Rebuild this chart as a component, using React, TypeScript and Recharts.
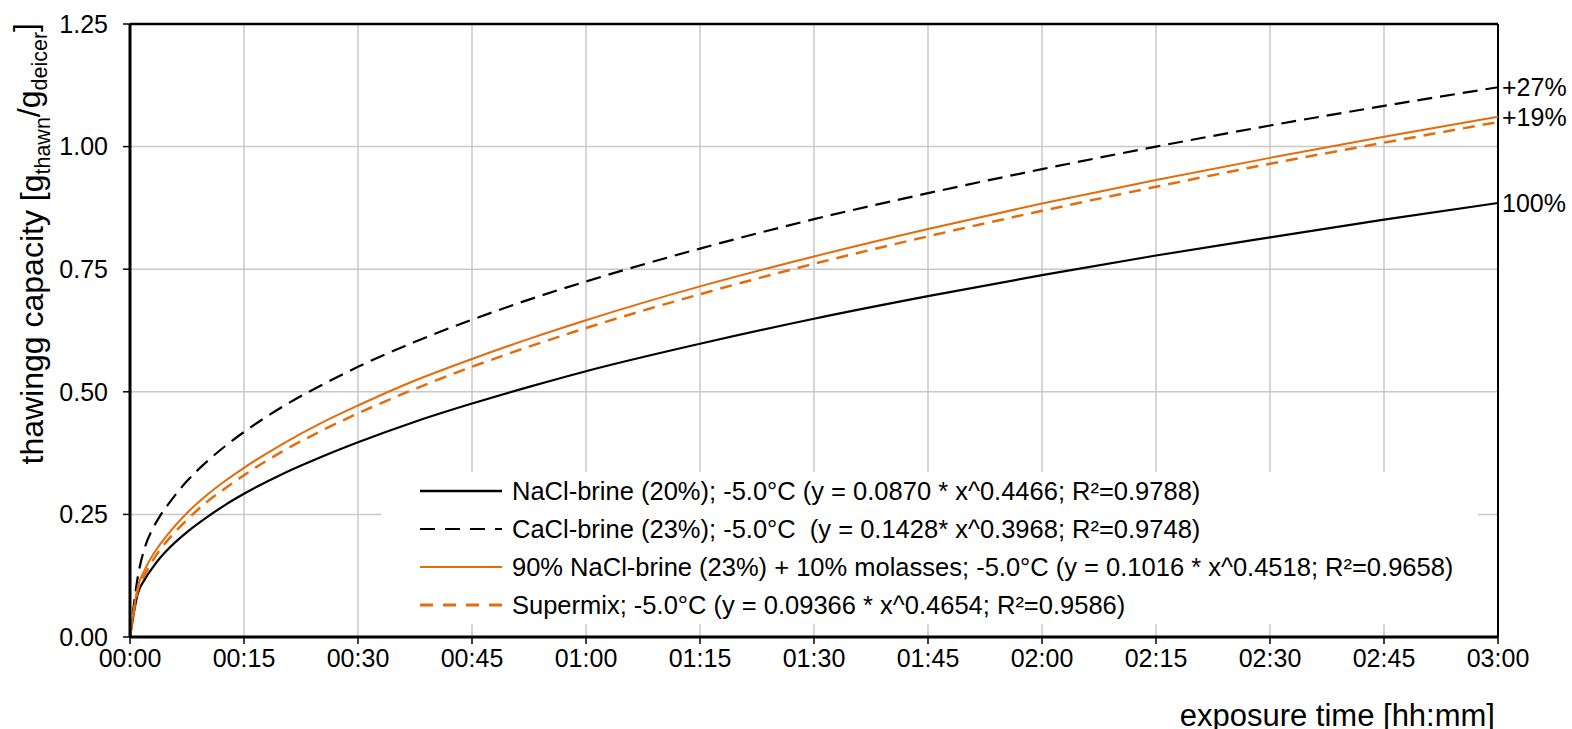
import React from "react";
import { LineChart, Line, XAxis, YAxis, CartesianGrid, ReferenceLine } from "recharts";

// exposure time in minutes
const times = [0, 1, 2, 3, 4, 5, 7.5, 10, 12.5, 15, 20, 25, 30, 37.5, 45, 52.5, 60, 75, 90, 105, 120, 135, 150, 165, 180];
const nacl = [0, 0.087, 0.119, 0.142, 0.162, 0.179, 0.214, 0.243, 0.269, 0.292, 0.332, 0.366, 0.397, 0.439, 0.476, 0.510, 0.542, 0.598, 0.649, 0.695, 0.738, 0.778, 0.815, 0.851, 0.885];
const cacl = [0, 0.120, 0.185, 0.221, 0.248, 0.270, 0.318, 0.356, 0.389, 0.418, 0.469, 0.512, 0.551, 0.602, 0.647, 0.688, 0.725, 0.792, 0.852, 0.905, 0.954, 1.000, 1.043, 1.083, 1.121];
const molasses = [0, 0.100, 0.139, 0.167, 0.190, 0.210, 0.253, 0.288, 0.318, 0.345, 0.393, 0.435, 0.472, 0.523, 0.567, 0.608, 0.646, 0.715, 0.776, 0.832, 0.884, 0.932, 0.977, 1.020, 1.061];
const supermix = [0, 0.094, 0.129, 0.156, 0.179, 0.198, 0.239, 0.274, 0.303, 0.330, 0.378, 0.419, 0.456, 0.506, 0.551, 0.592, 0.630, 0.699, 0.761, 0.817, 0.869, 0.918, 0.965, 1.008, 1.050];

const xTicks = [0, 15, 30, 45, 60, 75, 90, 105, 120, 135, 150, 165, 180];
const yTicks = [0, 0.25, 0.5, 0.75, 1.0, 1.25];

const endLabels: Record<string, string> = { nacl: "100%", cacl: "+27%", molasses: "+19%" };

const legendItems = [
  { label: "NaCl-brine (20%); -5.0°C (y = 0.0870 * x^0.4466; R²=0.9788)", color: "#000000", dash: "", width: 2.6 },
  { label: "CaCl-brine (23%); -5.0°C  (y = 0.1428* x^0.3968; R²=0.9748)", color: "#000000", dash: "15 10", width: 2 },
  { label: "90% NaCl-brine (23%) + 10% molasses; -5.0°C (y = 0.1016 * x^0.4518; R²=0.9658)", color: "#E46C0A", dash: "", width: 2 },
  { label: "Supermix; -5.0°C (y = 0.09366 * x^0.4654; R²=0.9586)", color: "#E46C0A", dash: "13 10", width: 2.8 },
];

const data = times.map((t, i) => ({
  t,
  nacl: nacl[i],
  cacl: cacl[i],
  molasses: molasses[i],
  supermix: supermix[i],
}));

const FONT = "'Liberation Sans', Arial, sans-serif";

const fmtTime = (m: number) => {
  const h = Math.floor(m / 60);
  const mm = Math.round(m % 60);
  return `${String(h).padStart(2, "0")}:${String(mm).padStart(2, "0")}`;
};

const makeEndLabel = (key: string) => (props: any) => {
  const { x, y, index } = props;
  if (index !== times.length - 1 || !endLabels[key]) return <g />;
  return (
    <text x={x + 4} y={y} dy="0.36em" fontSize={25} fontFamily={FONT} fill="#000" textAnchor="start">
      {endLabels[key]}
    </text>
  );
};

const YLabel = (props: any) => {
  const vb = props.viewBox || {};
  const tx = 35;
  const ty = (vb.y ?? 16) - 1;
  return (
    <text
      x={tx}
      y={ty}
      transform={`rotate(-90, ${tx}, ${ty})`}
      textAnchor="end"
      fontSize={32}
      fontFamily={FONT}
      fill="#000"
    >
      <tspan>thawingg capacity [g</tspan>
      <tspan fontSize={21.5} dy="0.32em">thawn</tspan>
      <tspan dy="-0.32em">/g</tspan>
      <tspan fontSize={21.5} dy="0.32em">deicer</tspan>
      <tspan dy="-0.32em">]</tspan>
    </text>
  );
};

const XLabel = (props: any) => {
  const vb = props.viewBox || {};
  const x = (vb.x ?? 122) + (vb.width ?? 1368) - 3;
  const y = (vb.y ?? 629) + 89;
  return (
    <text x={x} y={y} textAnchor="end" fontSize={31} fontFamily={FONT} fill="#000">
      exposure time [hh:mm]
    </text>
  );
};

export default function App() {
  return (
    <div style={{ position: "relative", width: 1572, height: 729, overflow: "hidden" }}>
      <style>{`html,body{margin:0;padding:0;overflow:hidden;}`}</style>
      <div style={{ position: "absolute", left: 8, top: 8 }}>
        <LineChart
          width={1564}
          height={721}
          data={data}
          margin={{ top: 16, right: 74, bottom: 0, left: 0 }}
          style={{ fontFamily: FONT }}
        >
          <CartesianGrid stroke="#c8c8c8" strokeWidth={1.5} />
          <XAxis
            type="number"
            dataKey="t"
            domain={[0, 180]}
            ticks={xTicks}
            interval={0}
            tickFormatter={fmtTime}
            height={92}
            axisLine={{ stroke: "#000", strokeWidth: 3 }}
            tickLine={{ stroke: "#000", strokeWidth: 1.5 }}
            tickSize={7}
            tickMargin={5}
            tick={{ fontSize: 25, fill: "#000", fontFamily: FONT }}
            label={<XLabel />}
          />
          <YAxis
            type="number"
            domain={[0, 1.25]}
            ticks={yTicks}
            interval={0}
            tickFormatter={(v: number) => v.toFixed(2)}
            width={122}
            axisLine={{ stroke: "#000", strokeWidth: 3 }}
            tickLine={{ stroke: "#000", strokeWidth: 1.5 }}
            tickSize={7}
            tickMargin={15}
            tick={{ fontSize: 25, fill: "#000", fontFamily: FONT }}
            label={<YLabel />}
          />
          <ReferenceLine y={1.25} stroke="#000" strokeWidth={2.5} />
          <ReferenceLine x={180} stroke="#000" strokeWidth={2} />
          <Line
            dataKey="nacl"
            type="monotone"
            stroke="#000"
            strokeWidth={2.2}
            dot={false}
            isAnimationActive={false}
            label={makeEndLabel("nacl")}
          />
          <Line
            dataKey="cacl"
            type="monotone"
            stroke="#000"
            strokeWidth={2.2}
            strokeDasharray="15 8"
            dot={false}
            isAnimationActive={false}
            label={makeEndLabel("cacl")}
          />
          <Line
            dataKey="supermix"
            type="monotone"
            stroke="#E46C0A"
            strokeWidth={2.5}
            strokeDasharray="12 8"
            dot={false}
            isAnimationActive={false}
          />
          <Line
            dataKey="molasses"
            type="monotone"
            stroke="#E46C0A"
            strokeWidth={2}
            dot={false}
            isAnimationActive={false}
            label={makeEndLabel("molasses")}
          />
        </LineChart>
        <div
          style={{
            position: "absolute",
            left: 373,
            top: 464,
            width: 1097,
            height: 152,
            background: "#fff",
            fontFamily: FONT,
            fontSize: 25.5,
            color: "#000",
          }}
        >
          {legendItems.map((it, i) => (
            <div key={i} style={{ position: "absolute", left: 0, top: i * 38, height: 38, width: 1097, whiteSpace: "pre" }}>
              <svg width={125} height={38} style={{ position: "absolute", left: 0, top: 0 }}>
                <line x1={39} x2={121} y1={19} y2={19} stroke={it.color} strokeWidth={it.width} strokeDasharray={it.dash || undefined} />
              </svg>
              <span style={{ position: "absolute", left: 131, top: 0, lineHeight: "38px" }}>{it.label}</span>
            </div>
          ))}
        </div>
      </div>
    </div>
  );
}
